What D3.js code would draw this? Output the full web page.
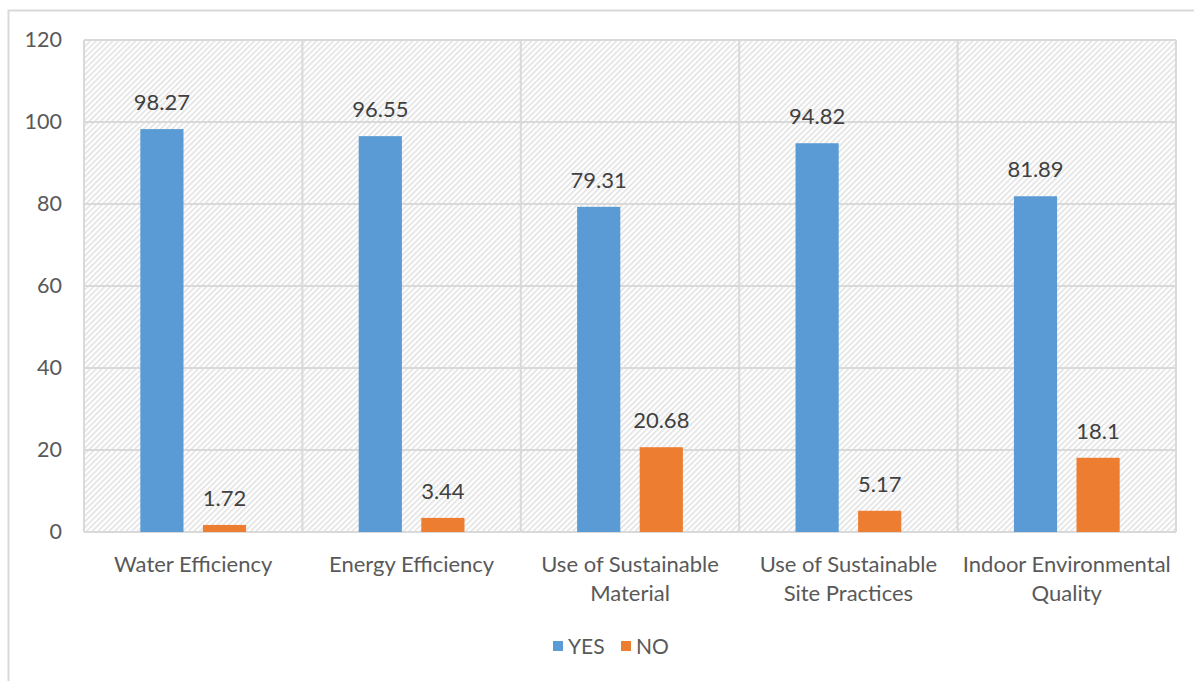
<!DOCTYPE html>
<html>
<head>
<meta charset="utf-8">
<script src="https://cdn.jsdelivr.net/npm/d3@7"></script>
<style>
  html, body { margin: 0; padding: 0; background: #fff; }
  svg { display: block; font-family: "Lato", "Open Sans", sans-serif; }
</style>
</head>
<body>
<svg id="chart" width="1194" height="681"></svg>
<script>
// Category names (line breaks mark where the axis label wraps)
const categories = [
  "Water Efficiency",
  "Energy Efficiency",
  "Use of Sustainable\nMaterial",
  "Use of Sustainable\nSite Practices",
  "Indoor Environmental\nQuality"
];
const seriesNames = ["YES", "NO"];
const yesValues = [98.27, 96.55, 79.31, 94.82, 81.89];
const noValues = [1.72, 3.44, 20.68, 5.17, 18.1];
const yTicks = [0, 20, 40, 60, 80, 100, 120];
const colors = ["#5b9bd5", "#ed7d31"];

const svg = d3.select("#chart");
const plot = { left: 84, top: 40, right: 1176, bottom: 532 };

// outer chart frame
svg.append("rect")
  .attr("x", 8.5).attr("y", 10.5)
  .attr("width", 1200).attr("height", 700)
  .attr("fill", "#fff").attr("stroke", "#d9d9d9").attr("stroke-width", 2);

// diagonal hatch background for plot area
const defs = svg.append("defs");
const pat = defs.append("pattern")
  .attr("id", "hatch")
  .attr("patternUnits", "userSpaceOnUse")
  .attr("width", 4).attr("height", 4)
  .attr("patternTransform", "rotate(-45)");
pat.append("rect").attr("width", 4).attr("height", 4).attr("fill", "#fff");
pat.append("rect").attr("x", 0).attr("y", 0).attr("width", 4).attr("height", 1.6).attr("fill", "#e2e2e2");

svg.append("rect")
  .attr("x", plot.left).attr("y", plot.top)
  .attr("width", plot.right - plot.left).attr("height", plot.bottom - plot.top)
  .attr("fill", "url(#hatch)");

const x0 = d3.scaleBand()
  .domain(d3.range(categories.length))
  .range([plot.left, plot.right])
  .paddingInner(0).paddingOuter(0);

const x1 = d3.scaleBand()
  .domain(seriesNames)
  .range([0, x0.bandwidth()])
  .paddingInner(0.31)
  .paddingOuter(0.9);

const y = d3.scaleLinear().domain([0, 120]).range([plot.bottom, plot.top]);

// horizontal gridlines
svg.append("g").selectAll("line")
  .data(yTicks)
  .join("line")
  .attr("x1", plot.left).attr("x2", plot.right)
  .attr("y1", d => y(d)).attr("y2", d => y(d))
  .attr("stroke", "#d9d9d9").attr("stroke-width", 2);

// vertical category separators
const seps = d3.range(categories.length + 1).map(i => i < categories.length ? x0(i) : plot.right);
svg.append("g").selectAll("line")
  .data(seps)
  .join("line")
  .attr("x1", d => d).attr("x2", d => d)
  .attr("y1", plot.top).attr("y2", plot.bottom)
  .attr("stroke", "#d9d9d9").attr("stroke-width", 2);

// y axis labels
const yAxis = d3.axisLeft(y).tickValues(yTicks).tickSize(0).tickPadding(22);
const gy = svg.append("g").attr("transform", `translate(${plot.left},0)`).call(yAxis);
gy.select(".domain").remove();
gy.selectAll("text").attr("font-size", 21.5).attr("fill", "#595959")
  .attr("font-family", "Lato, sans-serif");

// bars
const series = [yesValues, noValues];
const groups = svg.append("g").selectAll("g")
  .data(categories.map((c, i) => i))
  .join("g")
  .attr("transform", i => `translate(${x0(i)},0)`);

groups.selectAll("rect")
  .data(i => seriesNames.map((s, k) => ({ s, k, v: series[k][i] })))
  .join("rect")
  .attr("x", d => x1(d.s))
  .attr("width", x1.bandwidth())
  .attr("y", d => y(d.v))
  .attr("height", d => y(0) - y(d.v))
  .attr("fill", d => colors[d.k]);

// value labels
groups.selectAll("text")
  .data(i => seriesNames.map((s, k) => ({ s, k, v: series[k][i] })))
  .join("text")
  .attr("x", d => x1(d.s) + x1.bandwidth() / 2)
  .attr("y", d => y(d.v) - 19)
  .attr("text-anchor", "middle")
  .attr("font-size", 22)
  .attr("fill", "#404040")
  .text(d => d.v);

// category labels
const cat = svg.append("g").selectAll("text")
  .data(categories.map((c, i) => ({ c, i })))
  .join("text")
  .attr("x", d => x0(d.i) + x0.bandwidth() / 2)
  .attr("y", 572)
  .attr("text-anchor", "middle")
  .attr("font-size", 22)
  .attr("fill", "#595959");
cat.selectAll("tspan")
  .data(d => d.c.split("\n").map((t, j) => ({ t, j, x: x0(d.i) + x0.bandwidth() / 2 })))
  .join("tspan")
  .attr("x", d => d.x)
  .attr("dy", d => d.j === 0 ? 0 : 29)
  .text(d => d.t);

// legend
const legend = svg.append("g");
const legendItems = [
  { name: seriesNames[0], color: colors[0], x: 553 },
  { name: seriesNames[1], color: colors[1], x: 621 }
];
legendItems.forEach(it => {
  legend.append("rect").attr("x", it.x).attr("y", 641).attr("width", 10).attr("height", 10).attr("fill", it.color);
  legend.append("text").attr("x", it.x + 15).attr("y", 654)
    .attr("font-size", 21).attr("fill", "#595959").text(it.name);
});
</script>
</body>
</html>
